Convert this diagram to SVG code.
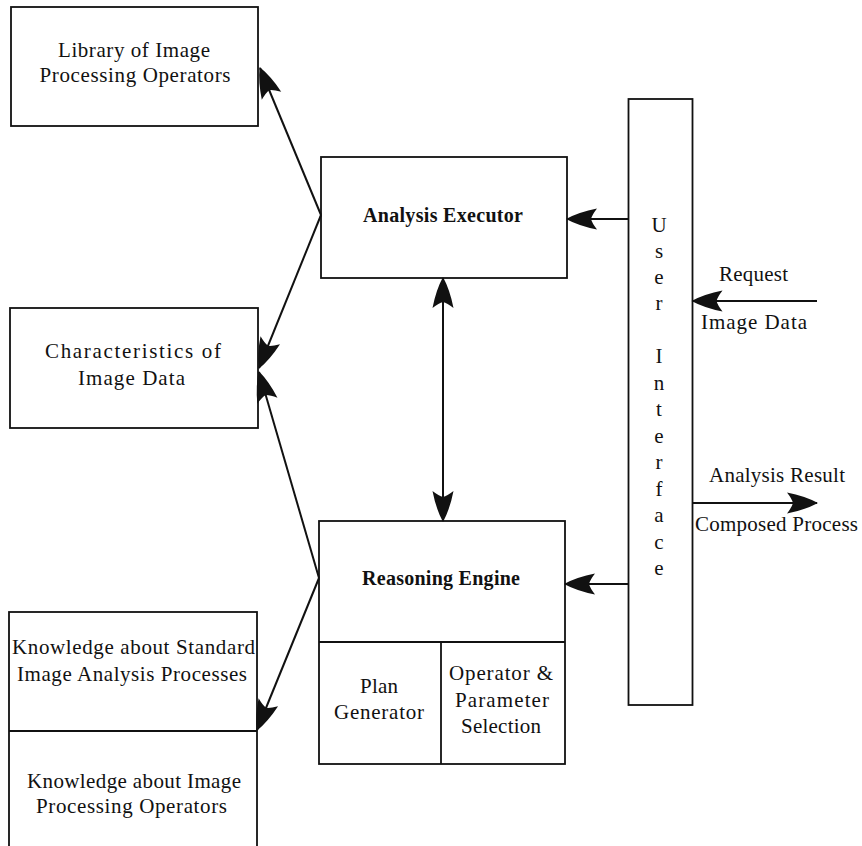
<svg xmlns="http://www.w3.org/2000/svg" width="862" height="846" viewBox="0 0 862 846">
<defs>
<style>
.box{fill:none;stroke:#111;stroke-width:1.8}
.ln{fill:none;stroke:#111;stroke-width:2}
.t{font-family:"Liberation Serif","Times New Roman",serif;font-size:21px;fill:#111;text-anchor:middle}
.b{font-weight:bold;font-size:20px}
</style>
<marker id="ah" markerUnits="userSpaceOnUse" markerWidth="36" markerHeight="28" viewBox="-33 -14 35 28" refX="0" refY="0" orient="auto">
<path d="M1,0 Q-12,-7 -30,-10.5 Q-25,-4 -24,0 Q-25,4 -30,10.5 Q-12,7 1,0 Z" fill="#111"/>
</marker>
<marker id="ahs" markerUnits="userSpaceOnUse" markerWidth="36" markerHeight="28" viewBox="-33 -14 35 28" refX="0" refY="0" orient="auto-start-reverse">
<path d="M1,0 Q-12,-7 -30,-10.5 Q-25,-4 -24,0 Q-25,4 -30,10.5 Q-12,7 1,0 Z" fill="#111"/>
</marker>
</defs>
<rect width="862" height="846" fill="#fff"/>

<g id="library">
<rect class="box" x="11" y="7" width="247" height="119"/>
<text class="t" x="134" y="57" textLength="152">Library of Image</text>
<text class="t" x="135" y="82" textLength="191">Processing Operators</text>
</g>

<g id="characteristics">
<rect class="box" x="10" y="308" width="248" height="120"/>
<text class="t" x="133" y="358" textLength="176">Characteristics of</text>
<text class="t" x="131.5" y="385" textLength="107">Image Data</text>
</g>

<g id="knowledge">
<rect class="box" x="9" y="612" width="248" height="245"/>
<line class="box" x1="9" y1="731" x2="257" y2="731"/>
<text class="t" x="133.5" y="654" textLength="243">Knowledge about Standard</text>
<text class="t" x="132" y="681" textLength="230">Image Analysis Processes</text>
<text class="t" x="134" y="788" textLength="214">Knowledge about Image</text>
<text class="t" x="131.5" y="813" textLength="191">Processing Operators</text>
</g>

<g id="executor">
<rect class="box" x="321" y="157" width="246" height="121"/>
<text class="t b" x="443" y="222" textLength="160">Analysis Executor</text>
</g>

<g id="reasoning">
<rect class="box" x="319" y="521" width="246" height="243"/>
<line class="box" x1="319" y1="642" x2="565" y2="642"/>
<line class="box" x1="441" y1="642" x2="441" y2="764"/>
<text class="t b" x="441" y="585" textLength="158">Reasoning Engine</text>
<text class="t" x="379" y="693" textLength="38">Plan</text>
<text class="t" x="379" y="719" textLength="90">Generator</text>
<text class="t" x="501" y="680" textLength="104">Operator &amp;</text>
<text class="t" x="502" y="707" textLength="94">Parameter</text>
<text class="t" x="501" y="733" textLength="80">Selection</text>
</g>

<g id="user-interface">
<rect class="box" x="628.5" y="99" width="64" height="606"/>
<text class="t" x="659" y="232">U</text>
<text class="t" x="659" y="258">s</text>
<text class="t" x="659" y="284">e</text>
<text class="t" x="659" y="310">r</text>
<text class="t" x="659" y="363">I</text>
<text class="t" x="659" y="390">n</text>
<text class="t" x="659" y="416">t</text>
<text class="t" x="659" y="443">e</text>
<text class="t" x="659" y="469">r</text>
<text class="t" x="659" y="496">f</text>
<text class="t" x="659" y="522">a</text>
<text class="t" x="659" y="549">c</text>
<text class="t" x="659" y="575">e</text>
</g>

<g id="connectors">
<line class="ln" x1="321" y1="215" x2="260" y2="68" marker-end="url(#ah)"/>
<line class="ln" x1="321" y1="215" x2="259" y2="368" marker-end="url(#ah)"/>
<line class="ln" x1="319" y1="578" x2="259" y2="372" marker-end="url(#ah)"/>
<line class="ln" x1="319" y1="578" x2="257" y2="730" marker-end="url(#ah)"/>
<line class="ln" x1="628.5" y1="219" x2="567" y2="219" marker-end="url(#ah)"/>
<line class="ln" x1="628.5" y1="584" x2="565" y2="584" marker-end="url(#ah)"/>
<line class="ln" x1="443" y1="278" x2="443" y2="521" marker-start="url(#ahs)" marker-end="url(#ah)"/>
<line class="ln" x1="817" y1="301" x2="692.5" y2="301" marker-end="url(#ah)"/>
<line class="ln" x1="692.5" y1="503" x2="817" y2="503" marker-end="url(#ah)"/>
<text class="t" x="753.5" y="281" textLength="69">Request</text>
<text class="t" x="754" y="329" textLength="106">Image Data</text>
<text class="t" x="777" y="482" textLength="136">Analysis Result</text>
<text class="t" x="776.5" y="531" textLength="163">Composed Process</text>
</g>
</svg>
